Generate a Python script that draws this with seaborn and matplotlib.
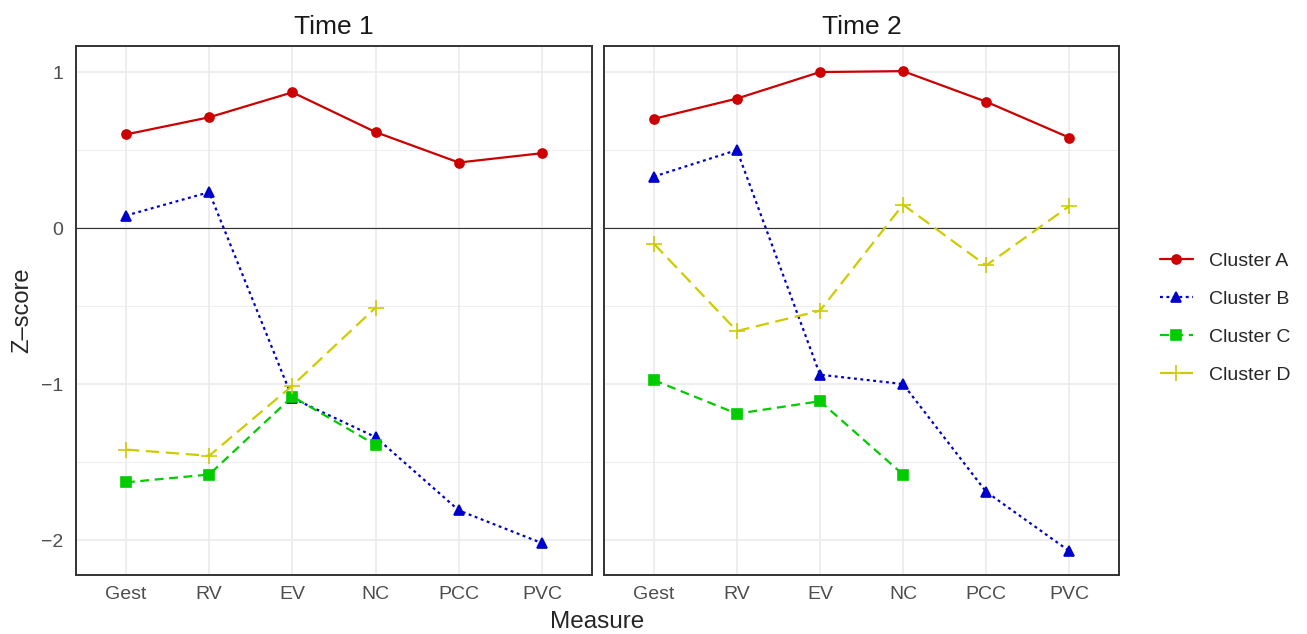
import numpy as np
import pandas as pd
import matplotlib
matplotlib.use("Agg")
import matplotlib.pyplot as plt
import seaborn as sns

# ---------------------------
# data
# ---------------------------
measures = ["Gest", "RV", "EV", "NC", "PCC", "PVC"]
clusters = ["Cluster A", "Cluster B", "Cluster C", "Cluster D"]
times = ["Time 1", "Time 2"]

t1_a = [0.60, 0.71, 0.87, 0.615, 0.42, 0.48]
t1_b = [0.08, 0.23, -1.09, -1.34, -1.81, -2.02]
t1_c = [-1.63, -1.58, -1.08, -1.39, np.nan, np.nan]
t1_d = [-1.42, -1.46, -1.01, -0.51, np.nan, np.nan]

t2_a = [0.70, 0.83, 1.00, 1.006, 0.81, 0.58]
t2_b = [0.33, 0.50, -0.94, -1.00, -1.69, -2.07]
t2_c = [-0.975, -1.19, -1.11, -1.58, np.nan, np.nan]
t2_d = [-0.10, -0.66, -0.53, 0.15, -0.24, 0.14]

series = {
    ("Time 1", "Cluster A"): t1_a, ("Time 1", "Cluster B"): t1_b,
    ("Time 1", "Cluster C"): t1_c, ("Time 1", "Cluster D"): t1_d,
    ("Time 2", "Cluster A"): t2_a, ("Time 2", "Cluster B"): t2_b,
    ("Time 2", "Cluster C"): t2_c, ("Time 2", "Cluster D"): t2_d,
}

rows = []
for (t, c), vals in series.items():
    for i, (m, v) in enumerate(zip(measures, vals)):
        rows.append({"Time": t, "Cluster": c, "Measure": m, "pos": i, "Z": v})
df = pd.DataFrame(rows).dropna()

palette = {"Cluster A": "#CC0000", "Cluster B": "#0000CC",
           "Cluster C": "#00CC00", "Cluster D": "#CCCC00"}
markers = {"Cluster A": "o", "Cluster B": "^", "Cluster C": "s", "Cluster D": "+"}
msizes = {"Cluster A": 6.5, "Cluster B": 7.5, "Cluster C": 6.5, "Cluster D": 12}
linestyles = {"Cluster A": "-", "Cluster B": (0, (1.3, 1.6)),
              "Cluster C": (0, (4, 2.5)), "Cluster D": (0, (6, 3))}

# ---------------------------
# style
# ---------------------------
sns.set_style("white")
plt.rcParams['font.family'] = ['Liberation Sans', 'DejaVu Sans']

W, H = 1307, 634
fig = plt.figure(figsize=(W / 100, H / 100), dpi=100)

bottom = 1 - 575 / H
height = (575 - 46) / H
panels = [(76, 592), (604, 1119)]
axes = []
for k, (t, (x0, x1)) in enumerate(zip(times, panels)):
    ax = fig.add_axes([x0 / W, bottom, (x1 - x0) / W, height])
    axes.append(ax)
    sub = df[df["Time"] == t]

    # grid like theme_bw
    for y in [-1.5, -0.5, 0.5]:
        ax.axhline(y, color="#EBEBEB", lw=0.6, zorder=0)
    for y in [-2, -1, 0, 1]:
        ax.axhline(y, color="#EBEBEB", lw=1.2, zorder=0)
    for i in range(len(measures)):
        ax.axvline(i, color="#EBEBEB", lw=1.2, zorder=0)
    ax.axhline(0, color="#333333", lw=0.8, zorder=1)

    for c in clusters:
        sc = sub[sub["Cluster"] == c]
        sns.lineplot(data=sc, x="pos", y="Z", color=palette[c],
                     marker=markers[c], markersize=msizes[c],
                     markeredgewidth=1.2, markeredgecolor=palette[c],
                     linestyle=linestyles[c], linewidth=1.6,
                     sort=False, ax=ax, label=c, zorder=3)
    if ax.get_legend() is not None:
        ax.get_legend().remove()

    ax.set_xlim(-0.6, 5.6)
    ax.set_ylim(-2.224, 1.167)
    ax.set_xticks(range(len(measures)))
    ax.set_xticklabels(measures)
    ax.set_yticks([-2, -1, 0, 1])
    ax.set_yticklabels(["\u22122", "\u22121", "0", "1"])
    ax.tick_params(axis="both", colors="#333333", labelcolor="#4D4D4D",
                   labelsize=14, length=5, width=1.1, direction="out")
    ax.tick_params(axis="x", pad=3)
    ax.tick_params(axis="y", pad=4)
    if k == 1:
        ax.tick_params(axis="y", left=False, labelleft=False)
    for s in ax.spines.values():
        s.set_visible(True)
        s.set_color("#333333")
        s.set_linewidth(1.4)
    ax.set_xlabel("")
    ax.set_ylabel("")
    ax.set_title(t, fontsize=19, pad=9, color="#1A1A1A")

axes[0].set_ylabel("Z\u2013score", fontsize=17, labelpad=6)
fig.text((76 + 1119) / 2 / W, 1 - 622 / H, "Measure", ha="center", va="center",
         fontsize=17.5)

# legend on the right
handles, labels = axes[1].get_legend_handles_labels()
fig.legend(handles, labels, loc="center left", bbox_to_anchor=(1142 / W, 1 - 318 / H),
           frameon=False, fontsize=14, handlelength=1.7, labelspacing=1.05,
           handletextpad=0.85)

fig.savefig("out.png", dpi=100)
